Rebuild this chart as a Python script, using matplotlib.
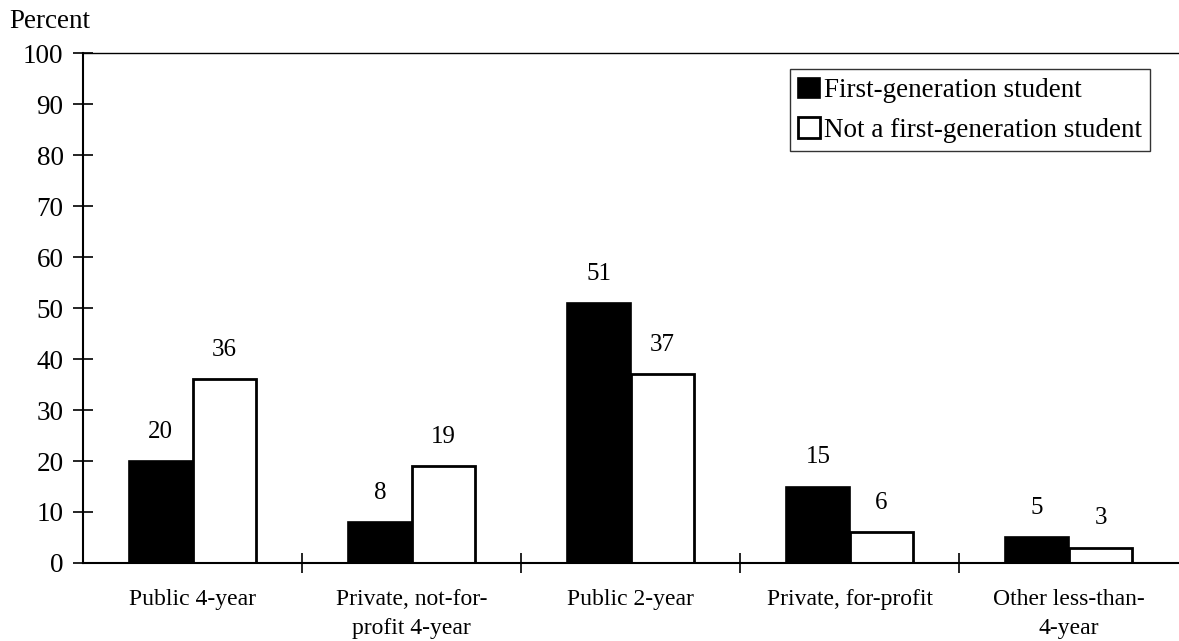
import numpy as np
import matplotlib.pyplot as plt

categories = ['Public 4-year', 'Private, not-for-\nprofit 4-year', 'Public 2-year',
              'Private, for-profit', 'Other less-than-\n4-year']
first_gen = [20, 8, 51, 15, 5]
not_first_gen = [36, 19, 37, 6, 3]
series_labels = ['First-generation student', 'Not a first-generation student']

plt.rcParams['font.family'] = ['Liberation Serif', 'DejaVu Serif']

fig = plt.figure(figsize=(11.79, 6.41), dpi=100)
ax = fig.add_axes([0.0704, 0.1217, 0.929, 0.7955])

x = np.arange(len(categories)) + 0.5
w = 0.29
b1 = ax.bar(x - w / 2, first_gen, w, color='black', edgecolor='black', linewidth=1.2,
            label=series_labels[0])
b2 = ax.bar(x + w / 2, not_first_gen, w, color='white', edgecolor='black', linewidth=2,
            label=series_labels[1])

for bars, vals in [(b1, first_gen), (b2, not_first_gen)]:
    for r, v in zip(bars, vals):
        ax.text(r.get_x() + r.get_width() / 2, v + 3.6, str(v), ha='center', va='bottom',
                fontsize=18)

ax.set_xlim(0, 5)
ax.set_ylim(0, 100)
ax.set_yticks(np.arange(0, 101, 10))
ax.set_xticks(x)
ax.set_xticklabels(categories, fontsize=17, linespacing=1.5)
ax.set_xticks([1, 2, 3, 4], minor=True)
ax.tick_params(axis='y', direction='inout', length=14, width=1.2, labelsize=19.5, pad=7)
ax.tick_params(axis='x', which='major', length=0, pad=19)
ax.tick_params(axis='x', which='minor', direction='inout', length=14, width=1.2)

ax.spines['right'].set_visible(False)
ax.spines['left'].set_linewidth(1.5)
ax.spines['bottom'].set_linewidth(1.5)
ax.spines['top'].set_linewidth(1.0)

fig.text(0.008, 0.966, 'Percent', fontsize=19.5, ha='left', va='center')

leg = ax.legend(loc='upper right', bbox_to_anchor=(0.974, 0.968), fontsize=19.5, frameon=True,
                fancybox=False, handlelength=0.8, handleheight=0.8, handletextpad=0.15,
                borderpad=0.3, labelspacing=0.5, borderaxespad=0)
leg.get_frame().set_edgecolor('black')
leg.get_frame().set_linewidth(1.0)

fig.savefig('out.png', dpi=100)
